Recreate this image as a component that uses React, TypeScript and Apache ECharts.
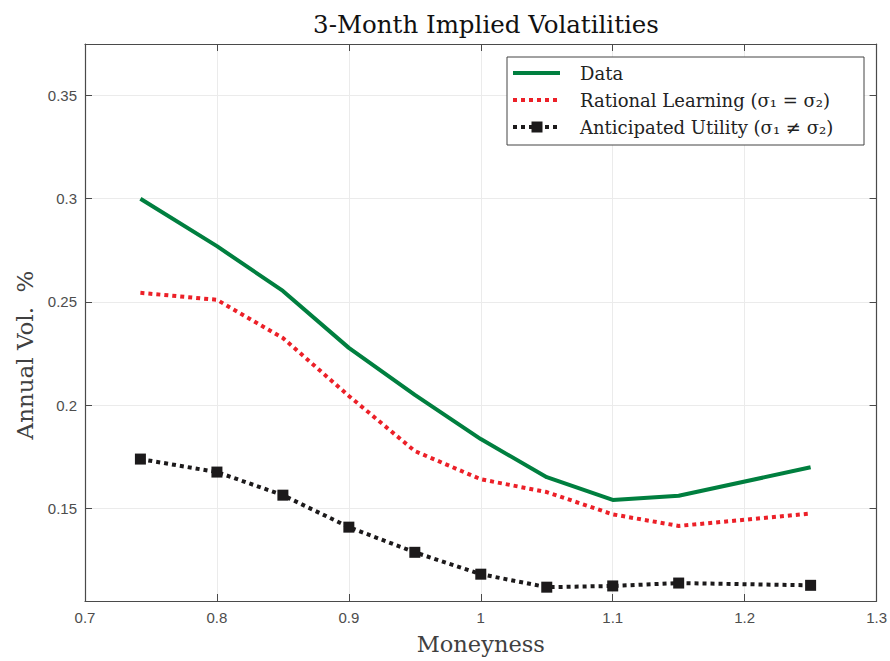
import React, { useEffect, useRef } from "react";
import * as echarts from "echarts";

const moneynessAll = [0.742, 0.8, 0.85, 0.9, 0.95, 1.0, 1.05, 1.1, 1.15, 1.25];
const dataVol = [0.3, 0.277, 0.2553, 0.2277, 0.2049, 0.1835, 0.165, 0.154, 0.156, 0.1698];
const rationalVol = [0.2544, 0.251, 0.2325, 0.2044, 0.1777, 0.164, 0.1578, 0.147, 0.1414, 0.1474];
const anticipatedVol = [0.1738, 0.1675, 0.1563, 0.1408, 0.1286, 0.118, 0.1117, 0.1123, 0.1137, 0.1126];
const yTicks = [0.15, 0.2, 0.25, 0.3, 0.35];
const legendLabels = ["Data", "Rational Learning (σ₁ = σ₂)", "Anticipated Utility (σ₁ ≠ σ₂)"];
const yAxisTitle = "Annual Vol.  %";

const GREEN = "#007f3f";
const RED = "#ec2028";
const BLACK = "#1c1a1b";
const AXIS = "#4a4a4a";
const GRIDC = "#ebebeb";
const SERIF = "'DejaVu Serif', 'Liberation Serif', serif";
const SANS = "'Liberation Sans', Arial, sans-serif";

const pairs = (ys: number[]) => moneynessAll.map((x, i) => [x, ys[i]]);

export default function App() {
  const ref = useRef<HTMLDivElement>(null);
  useEffect(() => {
    if (!ref.current) return;
    const chart = echarts.init(ref.current, null, { renderer: "svg" });
    const gridL = 85, gridT = 44, gridR = 13, gridB = 60;
    const yMin = 0.105, yMax = 0.375;
    const lx = 507, ly = 57, lw = 357, lh = 88;
    const rowY = [73, 100, 127];
    const option: any = {
      animation: false,
      backgroundColor: "#ffffff",
      title: {
        text: "3-Month Implied Volatilities",
        left: 481,
        top: 7,
        textAlign: "center",
        textStyle: { fontFamily: SERIF, fontSize: 24.5, fontWeight: "normal", color: "#111" },
      },
      grid: { left: gridL, top: gridT, right: gridR, bottom: gridB, containLabel: false },
      xAxis: [
        {
          type: "value",
          min: 0.7,
          max: 1.3,
          interval: 0.1,
          name: "Moneyness",
          nameLocation: "middle",
          nameGap: 31,
          nameTextStyle: { fontFamily: SERIF, fontSize: 22.5, color: "#404040" },
          axisLine: { show: true, onZero: false, lineStyle: { color: AXIS, width: 1.2 } },
          axisTick: { show: true, inside: true, length: 7, lineStyle: { color: AXIS } },
          axisLabel: { fontFamily: SANS, fontSize: 15, color: "#4d4d4d", margin: 9 },
          splitLine: { show: true, lineStyle: { color: GRIDC, width: 1 } },
        },
        {
          type: "value",
          position: "top",
          min: 0.7,
          max: 1.3,
          interval: 0.1,
          axisLine: { show: true, onZero: false, lineStyle: { color: AXIS, width: 1.2 } },
          axisTick: { show: true, inside: true, length: 7, lineStyle: { color: AXIS } },
          axisLabel: { show: false },
          splitLine: { show: false },
        },
      ],
      yAxis: [
        {
          type: "value",
          min: yMin,
          max: yMax,
          axisLine: { show: true, onZero: false, lineStyle: { color: AXIS, width: 1.2 } },
          axisTick: { show: true, inside: true, length: 7, customValues: yTicks, lineStyle: { color: AXIS } },
          axisLabel: { fontFamily: SANS, fontSize: 15, color: "#4d4d4d", margin: 8, customValues: yTicks },
          splitLine: { show: true, lineStyle: { color: GRIDC, width: 1 } },
        },
        {
          type: "value",
          position: "right",
          min: yMin,
          max: yMax,
          axisLine: { show: true, onZero: false, lineStyle: { color: AXIS, width: 1.2 } },
          axisTick: { show: true, inside: true, length: 7, customValues: yTicks, lineStyle: { color: AXIS } },
          axisLabel: { show: false, customValues: yTicks },
          splitLine: { show: false },
        },
      ],
      series: [
        {
          name: legendLabels[0],
          type: "line",
          data: pairs(dataVol),
          showSymbol: false,
          symbol: "none",
          lineStyle: { color: GREEN, width: 4 },
          z: 3,
        },
        {
          name: legendLabels[1],
          type: "line",
          data: pairs(rationalVol),
          symbol: "none",
          lineStyle: { color: RED, width: 4, type: [4, 4] },
          z: 3,
        },
        {
          name: legendLabels[2],
          type: "line",
          data: pairs(anticipatedVol),
          symbol: "rect",
          symbolSize: 11,
          itemStyle: { color: BLACK },
          lineStyle: { color: BLACK, width: 4, type: [4, 4] },
          z: 3,
        },
      ],
      graphic: [
        {
          type: "text",
          x: 25,
          y: 355,
          rotation: Math.PI / 2,
          style: {
            text: yAxisTitle,
            fontFamily: SERIF,
            fontSize: 23,
            fill: "#404040",
            align: "center",
            verticalAlign: "middle",
          },
        },
        {
          type: "rect",
          shape: { x: lx, y: ly, width: lw, height: lh },
          style: { fill: "#fff", stroke: "#444", lineWidth: 1 },
          z: 10,
        },
        {
          type: "line",
          shape: { x1: 513, y1: rowY[0], x2: 560, y2: rowY[0] },
          style: { stroke: GREEN, lineWidth: 4 },
          z: 11,
        },
        {
          type: "line",
          shape: { x1: 513, y1: rowY[1], x2: 560, y2: rowY[1] },
          style: { stroke: RED, lineWidth: 4, lineDash: [4, 4] },
          z: 11,
        },
        {
          type: "line",
          shape: { x1: 513, y1: rowY[2], x2: 560, y2: rowY[2] },
          style: { stroke: BLACK, lineWidth: 4, lineDash: [4, 4] },
          z: 11,
        },
        {
          type: "rect",
          shape: { x: 531.5, y: rowY[2] - 5.5, width: 11, height: 11 },
          style: { fill: BLACK },
          z: 12,
        },
        ...legendLabels.map((t, i) => ({
          type: "text",
          x: 580,
          y: rowY[i],
          style: {
            text: t,
            fontFamily: SERIF,
            fontSize: 18,
            fill: "#222",
            verticalAlign: "middle",
          },
          z: 12,
        })),
      ],
    };
    chart.setOption(option);
    return () => chart.dispose();
  }, []);
  return (
    <div
      ref={ref}
      style={{ position: "fixed", left: 0, top: 0, width: 890, height: 661, background: "#fff" }}
    />
  );
}
